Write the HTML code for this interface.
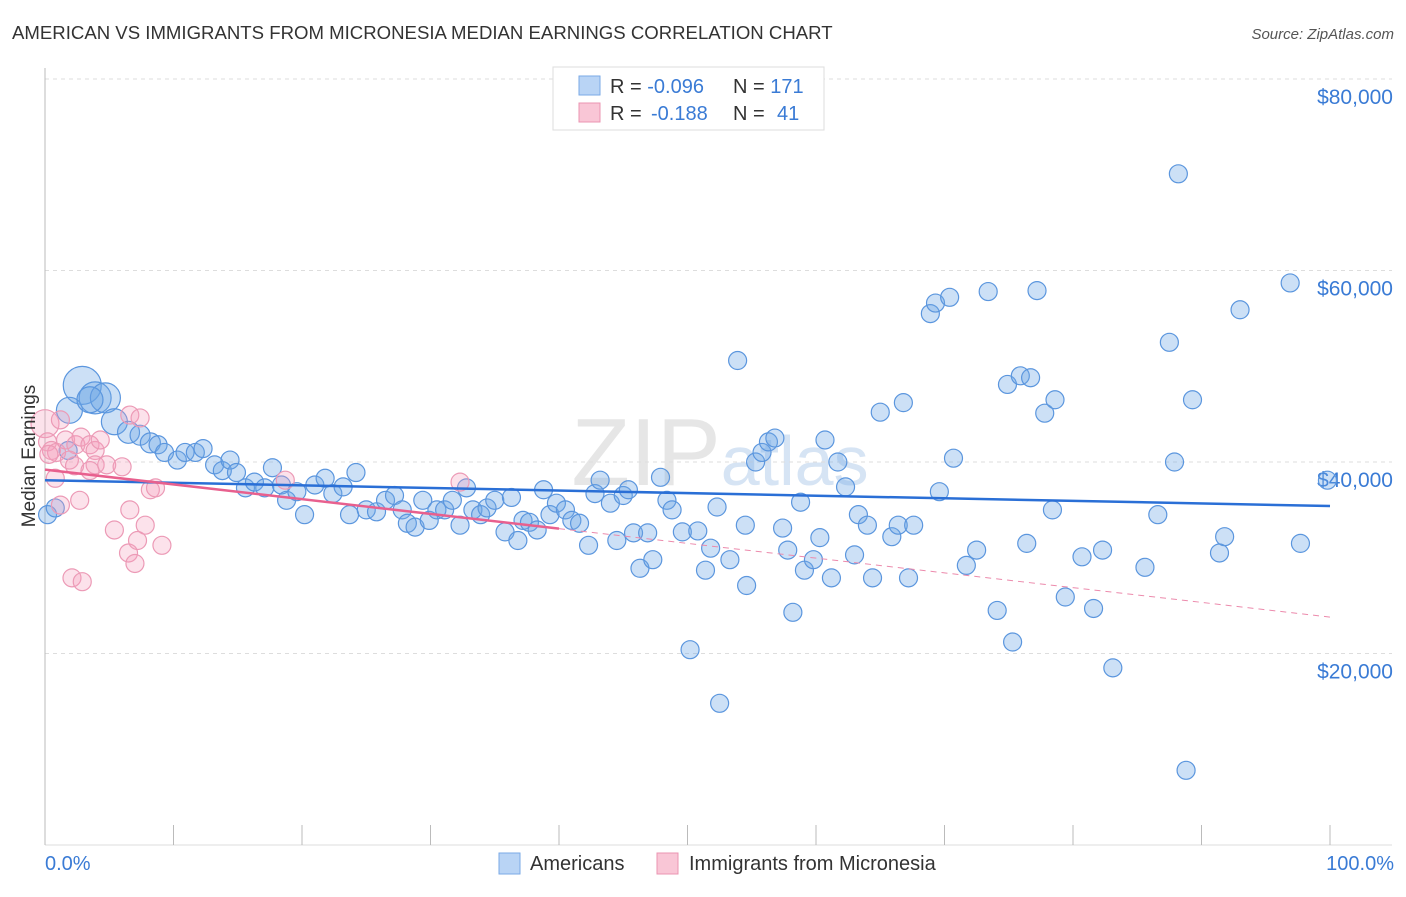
<!DOCTYPE html>
<html><head><meta charset="utf-8"><style>
body{margin:0;background:#fff;font-family:"Liberation Sans",sans-serif;}
svg text{font-family:"Liberation Sans",sans-serif;}
</style></head><body>
<svg id="chart" width="1406" height="892">
<text x="12" y="39" font-size="18.6" fill="#333">AMERICAN VS IMMIGRANTS FROM MICRONESIA MEDIAN EARNINGS CORRELATION CHART</text>
<text x="1394" y="39" font-size="15" fill="#555" text-anchor="end" font-style="italic">Source: ZipAtlas.com</text>
<text x="720" y="485" font-size="96" fill="#e6e6e6" text-anchor="middle" font-family="Liberation Serif">ZIP<tspan font-family="Liberation Sans" font-size="70" fill="#d6e4f4">atlas</tspan></text>
<g id="grid"></g>
<g id="axes"></g>
<g id="pts"></g>
<g id="trend"></g>
<text transform="translate(35,456) rotate(-90)" font-size="19" fill="#333" text-anchor="middle">Median Earnings</text>
<text x="45" y="870" font-size="20" fill="#3a7bd5">0.0%</text>
<text x="1394" y="870" font-size="20" fill="#3a7bd5" text-anchor="end">100.0%</text>
<g>
<rect x="553" y="67" width="271" height="63" fill="#fff" stroke="#ddd"/>
<rect x="579" y="76" width="21" height="19" fill="#b9d4f5" stroke="#7aaae6"/>
<rect x="579" y="103" width="21" height="19" fill="#f9c6d6" stroke="#eb94b2"/>
<text x="610" y="93" font-size="20" fill="#333">R = <tspan fill="#3a7bd5">-0.096</tspan><tspan x="733">N = </tspan><tspan fill="#3a7bd5">171</tspan></text>
<text x="610" y="120" font-size="20" fill="#333">R = <tspan x="651" fill="#3a7bd5">-0.188</tspan><tspan x="733">N = </tspan><tspan x="777" fill="#3a7bd5">41</tspan></text>
</g>
<g>
<rect x="499" y="853" width="21" height="21" fill="#b9d4f5" stroke="#7aaae6"/>
<text x="530" y="870" font-size="20" fill="#333">Americans</text>
<rect x="657" y="853" width="21" height="21" fill="#f9c6d6" stroke="#eb94b2"/>
<text x="689" y="870" font-size="20" fill="#333">Immigrants from Micronesia</text>
</g>
</svg>
<script>
const yTicks=[20000,40000,60000,80000];
const yTickLabels=["$20,000","$40,000","$60,000","$80,000"];
const xTicks=[0,10,20,30,40,50,60,70,80,90,100];
const bluePct=[2.9,1.9,3.9,4.7,3.5,5.4,6.5,7.4,8.2,8.8,9.3,10.3,10.9,11.7,12.3,13.2,13.8,14.4,14.9,15.6,16.3,17.1,17.7,18.4,18.8,19.6,20.2,21.0,21.8,22.4,23.2,23.7,24.2,25.0,25.8,26.5,27.2,27.8,28.2,28.8,29.4,29.9,30.5,31.1,31.7,32.3,32.8,33.3,33.9,34.4,35.0,35.8,36.3,36.8,37.2,37.7,38.3,38.8,39.3,39.8,40.5,41.0,41.6,42.3,42.8,43.2,44.0,44.5,45.0,45.4,45.8,46.3,46.9,47.3,47.9,48.4,48.8,49.6,50.2,50.8,51.4,51.8,52.3,52.5,53.3,53.9,54.5,54.6,55.3,55.8,56.3,56.8,57.4,57.8,58.2,58.8,59.1,59.8,60.3,60.7,61.2,61.7,62.3,63.0,63.3,64.0,64.4,65.0,65.9,66.4,66.8,67.2,67.6,68.9,69.3,70.4,70.7,69.6,71.7,72.5,73.4,74.1,74.9,75.3,75.9,76.4,76.7,77.2,77.8,78.4,78.6,79.4,80.7,81.6,82.3,83.1,85.6,86.6,87.5,87.9,88.2,88.8,89.3,91.4,91.8,93.0,96.9,97.7,99.8,0.2,0.8,1.8];
const blueVal=[48.0,45.4,46.7,46.7,46.5,44.2,43.1,42.8,42.0,41.8,41.0,40.2,41.0,41.0,41.4,39.7,39.1,40.2,38.9,37.3,37.9,37.3,39.4,37.6,36.0,36.9,34.5,37.6,38.3,36.7,37.4,34.5,38.9,35.0,34.8,36.0,36.5,35.0,33.6,33.2,36.0,33.9,35.0,35.0,36.0,33.4,37.3,35.0,34.5,35.2,36.0,32.7,36.3,31.8,33.9,33.7,32.9,37.1,34.5,35.7,35.0,33.9,33.6,31.3,36.7,38.1,35.7,31.8,36.5,37.1,32.6,28.9,32.6,29.8,38.4,36.0,35.0,32.7,20.4,32.8,28.7,31.0,35.3,14.8,29.8,50.6,33.4,27.1,40.0,41.0,42.1,42.5,33.1,30.8,24.3,35.8,28.7,29.8,32.1,42.3,27.9,40.0,37.4,30.3,34.5,33.4,27.9,45.2,32.2,33.4,46.2,27.9,33.4,55.5,56.6,57.2,40.4,36.9,29.2,30.8,57.8,24.5,48.1,21.2,49.0,31.5,48.8,57.9,45.1,35.0,46.5,25.9,30.1,24.7,30.8,18.5,29.0,34.5,52.5,40.0,70.1,7.8,46.5,30.5,32.2,55.9,58.7,31.5,38.1,34.5,35.2,41.2];
const blueBig=[19,13,16,15,13,13,11,10,10];
const pinkPct=[0,1.2,0.2,0.5,0.9,1.6,2.4,2.8,3.5,3.9,4.3,1.9,2.3,3.9,4.8,6.0,6.6,0.8,3.5,1.2,2.7,8.2,8.6,6.6,5.4,7.8,6.5,7.2,9.1,7.0,2.1,2.9,18.7,32.3,7.4,0.3];
const pinkVal=[44.0,44.4,42.1,41.2,41.0,42.3,41.8,42.6,41.8,41.2,42.3,40.2,39.6,39.7,39.7,39.5,44.9,38.3,39.1,35.5,36.0,37.1,37.3,35.0,32.9,33.4,30.5,31.8,31.3,29.4,27.9,27.5,38.1,37.9,44.6,40.8];
const blueTrend=[38.1,35.4];
const pinkTrend=[39.2,23.8];
const pinkSolidEnd=40;

const NS="http://www.w3.org/2000/svg";
const X0=45,X1=1330,YB=845,PXK=191.5/20;
function xS(p){return X0+(X1-X0)*p/100;}
function yS(k){return YB-k*PXK;}
function mk(tag,attrs,parent){const e=document.createElementNS(NS,tag);for(const k in attrs)e.setAttribute(k,attrs[k]);parent.appendChild(e);return e;}
const grid=document.getElementById('grid'),axes=document.getElementById('axes'),pts=document.getElementById('pts'),trend=document.getElementById('trend');
yTicks.forEach((v,i)=>{
  const y=yS(v/1000);
  const l=mk('line',{x1:X0,x2:1392,y1:y,y2:y,stroke:'#ddd','stroke-dasharray':'4,4'},grid);
  
  
  const t=mk('text',{x:1393,y:y+25,'font-size':21,fill:'#3a7bd5','text-anchor':'end'},grid);
  t.textContent=yTickLabels[i];
  
  
});
const ya=mk('line',{x1:X0,x2:X0,y1:68,y2:YB,stroke:'#bbb'},axes);


const xa=mk('line',{x1:X0,x2:1392,y1:YB,y2:YB,stroke:'#ddd'},axes);


xTicks.forEach(p=>{
  const t=mk('line',{x1:xS(p),x2:xS(p),y1:825,y2:YB,stroke:'#bbb'},axes);
  
  
});
bluePct.forEach((p,i)=>{
  const c=mk('circle',{cx:xS(p),cy:yS(blueVal[i]),r:i<blueBig.length?blueBig[i]:9,fill:'rgba(110,165,230,0.35)',stroke:'#5b96de','stroke-width':1.2},pts);
  
  
});
pinkPct.forEach((p,i)=>{
  const c=mk('circle',{cx:xS(p),cy:yS(pinkVal[i]),r:i==0?14:9,fill:'rgba(245,160,190,0.3)',stroke:'#ec9ab6','stroke-width':1.2},pts);
  
  
});
const bt=mk('line',{x1:xS(0),y1:yS(blueTrend[0]),x2:xS(100),y2:yS(blueTrend[1]),stroke:'#2a6fd6','stroke-width':2.5},trend);


const pAt=p=>pinkTrend[0]+(pinkTrend[1]-pinkTrend[0])*p/100;
const ps=mk('line',{x1:xS(0),y1:yS(pinkTrend[0]),x2:xS(pinkSolidEnd),y2:yS(pAt(pinkSolidEnd)),stroke:'#e8608e','stroke-width':2.5},trend);


const pd=mk('line',{x1:xS(pinkSolidEnd),y1:yS(pAt(pinkSolidEnd)),x2:xS(100),y2:yS(pinkTrend[1]),stroke:'#ec8aac','stroke-width':1,'stroke-dasharray':'6,5'},trend);


</script>
</body></html>
